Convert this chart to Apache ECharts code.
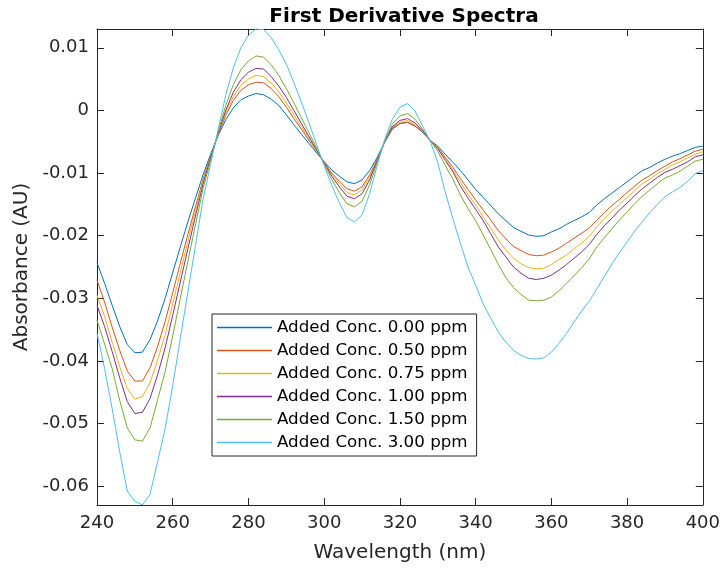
<!DOCTYPE html>
<html>
<head>
<meta charset="utf-8">
<script src="https://cdn.jsdelivr.net/npm/echarts@6/dist/echarts.min.js"></script>
<style>
html, body { margin: 0; padding: 0; background: #fff; }
#chart { width: 723px; height: 568px; }
</style>
</head>
<body>
<div id="chart"></div>
<script>
// wavelength grid (nm)
const wavelength = [
    240, 242, 244, 246, 248, 250, 252, 254, 256, 258,
    260, 262, 264, 266, 268, 270, 272, 274, 276, 278,
    280, 282, 284, 286, 288, 290, 292, 294, 296, 298,
    300, 302, 304, 306, 308, 310, 312, 314, 316, 318,
    320, 322, 324, 326, 328, 330, 332, 334, 336, 338,
    340, 342, 344, 346, 348, 350, 352, 354, 356, 358,
    360, 362, 364, 366, 368, 370, 372, 374, 376, 378,
    380, 382, 384, 386, 388, 390, 392, 394, 396, 398,
    400
];

// first derivative values, one array per added concentration
const conc000 = [
    -0.0243, -0.0276, -0.0311, -0.0345, -0.0374, -0.0387, -0.0386, -0.0366, -0.0336, -0.0300,
    -0.0259, -0.0218, -0.0178, -0.0140, -0.0103, -0.0070, -0.0040, -0.0015, 0.0004, 0.0017,
    0.0023, 0.0027, 0.0025, 0.0018, 0.0008, -0.0007, -0.0023, -0.0038, -0.0053, -0.0068,
    -0.0082, -0.0095, -0.0105, -0.0114, -0.0117, -0.0111, -0.0096, -0.0075, -0.0051, -0.0030,
    -0.0021, -0.0019, -0.0025, -0.0035, -0.0048, -0.0057, -0.0070, -0.0083, -0.0096, -0.0111,
    -0.0126, -0.0139, -0.0152, -0.0165, -0.0176, -0.0187, -0.0193, -0.0199, -0.0201, -0.0200,
    -0.0194, -0.0189, -0.0182, -0.0176, -0.0170, -0.0163, -0.0151, -0.0141, -0.0132, -0.0123,
    -0.0114, -0.0105, -0.0096, -0.0091, -0.0084, -0.0078, -0.0073, -0.0069, -0.0064, -0.0059,
    -0.0057
];
const conc050 = [
    -0.0271, -0.0306, -0.0346, -0.0383, -0.0416, -0.0432, -0.0432, -0.0411, -0.0377, -0.0337,
    -0.0291, -0.0244, -0.0198, -0.0154, -0.0110, -0.0073, -0.0038, -0.0008, 0.0016, 0.0032,
    0.0041, 0.0045, 0.0044, 0.0035, 0.0022, 0.0005, -0.0013, -0.0030, -0.0048, -0.0065,
    -0.0083, -0.0100, -0.0113, -0.0125, -0.0129, -0.0122, -0.0103, -0.0078, -0.0050, -0.0028,
    -0.0021, -0.0019, -0.0025, -0.0034, -0.0048, -0.0059, -0.0075, -0.0091, -0.0109, -0.0126,
    -0.0143, -0.0159, -0.0175, -0.0192, -0.0205, -0.0217, -0.0224, -0.0230, -0.0232, -0.0231,
    -0.0226, -0.0220, -0.0212, -0.0204, -0.0196, -0.0188, -0.0175, -0.0163, -0.0152, -0.0142,
    -0.0131, -0.0121, -0.0111, -0.0104, -0.0096, -0.0089, -0.0082, -0.0077, -0.0071, -0.0065,
    -0.0062
];
const conc075 = [
    -0.0295, -0.0329, -0.0370, -0.0409, -0.0444, -0.0461, -0.0457, -0.0435, -0.0399, -0.0358,
    -0.0309, -0.0259, -0.0209, -0.0161, -0.0114, -0.0075, -0.0037, -0.0004, 0.0022, 0.0040,
    0.0050, 0.0056, 0.0054, 0.0044, 0.0030, 0.0012, -0.0007, -0.0026, -0.0045, -0.0064,
    -0.0084, -0.0102, -0.0117, -0.0131, -0.0135, -0.0127, -0.0107, -0.0079, -0.0050, -0.0027,
    -0.0019, -0.0016, -0.0023, -0.0033, -0.0048, -0.0060, -0.0078, -0.0095, -0.0115, -0.0134,
    -0.0151, -0.0170, -0.0188, -0.0207, -0.0223, -0.0236, -0.0245, -0.0251, -0.0253, -0.0252,
    -0.0246, -0.0238, -0.0231, -0.0221, -0.0212, -0.0201, -0.0186, -0.0173, -0.0161, -0.0150,
    -0.0139, -0.0128, -0.0117, -0.0110, -0.0101, -0.0094, -0.0087, -0.0082, -0.0076, -0.0070,
    -0.0066
];
const conc100 = [
    -0.0311, -0.0345, -0.0385, -0.0427, -0.0465, -0.0484, -0.0482, -0.0460, -0.0422, -0.0379,
    -0.0327, -0.0274, -0.0221, -0.0169, -0.0118, -0.0076, -0.0036, 0.0000, 0.0029, 0.0049,
    0.0061, 0.0067, 0.0066, 0.0054, 0.0039, 0.0021, 0.0000, -0.0021, -0.0042, -0.0063,
    -0.0084, -0.0105, -0.0122, -0.0137, -0.0141, -0.0133, -0.0111, -0.0080, -0.0049, -0.0026,
    -0.0016, -0.0013, -0.0020, -0.0032, -0.0048, -0.0061, -0.0080, -0.0098, -0.0121, -0.0140,
    -0.0158, -0.0176, -0.0197, -0.0218, -0.0234, -0.0250, -0.0260, -0.0268, -0.0270, -0.0268,
    -0.0263, -0.0255, -0.0246, -0.0236, -0.0226, -0.0214, -0.0198, -0.0184, -0.0172, -0.0159,
    -0.0148, -0.0136, -0.0125, -0.0116, -0.0107, -0.0099, -0.0094, -0.0088, -0.0082, -0.0074,
    -0.0071
];
const conc150 = [
    -0.0335, -0.0373, -0.0412, -0.0463, -0.0507, -0.0526, -0.0528, -0.0507, -0.0462, -0.0417,
    -0.0360, -0.0300, -0.0241, -0.0183, -0.0125, -0.0080, -0.0034, 0.0008, 0.0041, 0.0065,
    0.0079, 0.0087, 0.0085, 0.0073, 0.0056, 0.0035, 0.0012, -0.0012, -0.0036, -0.0060,
    -0.0086, -0.0110, -0.0131, -0.0149, -0.0154, -0.0145, -0.0119, -0.0083, -0.0048, -0.0022,
    -0.0009, -0.0005, -0.0014, -0.0030, -0.0048, -0.0065, -0.0088, -0.0110, -0.0135, -0.0157,
    -0.0176, -0.0199, -0.0222, -0.0246, -0.0267, -0.0283, -0.0294, -0.0303, -0.0304, -0.0303,
    -0.0298, -0.0288, -0.0276, -0.0264, -0.0251, -0.0237, -0.0218, -0.0203, -0.0189, -0.0175,
    -0.0162, -0.0149, -0.0137, -0.0127, -0.0117, -0.0108, -0.0103, -0.0097, -0.0089, -0.0081,
    -0.0078
];
const conc300 = [
    -0.0356, -0.0412, -0.0476, -0.0545, -0.0608, -0.0624, -0.0630, -0.0613, -0.0561, -0.0508,
    -0.0439, -0.0364, -0.0290, -0.0216, -0.0142, -0.0086, -0.0030, 0.0024, 0.0068, 0.0100,
    0.0120, 0.0130, 0.0129, 0.0116, 0.0097, 0.0074, 0.0044, 0.0013, -0.0020, -0.0055,
    -0.0088, -0.0120, -0.0147, -0.0171, -0.0178, -0.0167, -0.0133, -0.0088, -0.0046, -0.0014,
    0.0005, 0.0011, -0.0001, -0.0025, -0.0049, -0.0083, -0.0131, -0.0173, -0.0213, -0.0250,
    -0.0279, -0.0309, -0.0332, -0.0354, -0.0370, -0.0383, -0.0391, -0.0396, -0.0397, -0.0395,
    -0.0386, -0.0372, -0.0356, -0.0338, -0.0320, -0.0305, -0.0285, -0.0265, -0.0245, -0.0227,
    -0.0210, -0.0193, -0.0178, -0.0163, -0.0150, -0.0138, -0.0130, -0.0123, -0.0113, -0.0101,
    -0.0096
];

const seriesNames = [
    'Added Conc. 0.00 ppm', 'Added Conc. 0.50 ppm', 'Added Conc. 0.75 ppm',
    'Added Conc. 1.00 ppm', 'Added Conc. 1.50 ppm', 'Added Conc. 3.00 ppm'
];
const seriesValues = [conc000, conc050, conc075, conc100, conc150, conc300];
const lineColors = ['#0072BD', '#D95319', '#EDB120', '#7E2F8E', '#77AC30', '#4DBEEE'];

const xTicks = [240, 260, 280, 300, 320, 340, 360, 380, 400];
const yTicks = [0.01, 0, -0.01, -0.02, -0.03, -0.04, -0.05, -0.06];

// axis limits tight to the data, like matlab "axis tight"
const allVals = [].concat(...seriesValues);
const yMin = Math.min(...allVals);
const yMax = Math.max(...allVals);

const axisColor = '#262626';
const font = 'DejaVu Sans';

let myChart = echarts.init(document.getElementById('chart'), null, { renderer: 'canvas' });

const boxLine = { show: true, onZero: false, lineStyle: { color: axisColor, width: 1 } };
const inTick = { show: true, inside: true, length: 7, lineStyle: { color: axisColor, width: 1 } };

myChart.setOption({
    animation: false,
    backgroundColor: '#fff',
    title: {
        text: 'First Derivative Spectra',
        left: 399,
        textAlign: 'center',
        top: 2,
        textStyle: { fontFamily: font, fontSize: 20, fontWeight: 'bold', color: '#000' }
    },
    legend: {
        orient: 'vertical',
        left: 212,
        top: 314,
        icon: 'rect',
        itemWidth: 55,
        itemHeight: 1.5,
        itemGap: 6,
        padding: [5, 9, 5, 5],
        backgroundColor: '#fff',
        borderColor: axisColor,
        borderWidth: 1,
        borderRadius: 0,
        data: seriesNames,
        textStyle: { fontFamily: font, fontSize: 16.7, color: '#000', lineHeight: 16 }
    },
    grid: { left: 97, right: 17, top: 29, bottom: 60, containLabel: false },
    xAxis: [
        {
            type: 'value',
            min: 240,
            max: 400,
            interval: 20,
            name: 'Wavelength (nm)',
            nameLocation: 'middle',
            nameGap: 38,
            nameTextStyle: { fontFamily: font, fontSize: 20, color: axisColor },
            axisLine: boxLine,
            axisTick: inTick,
            splitLine: { show: false },
            axisLabel: {
                margin: 9, fontFamily: font, fontSize: 18, color: axisColor,
                showMinLabel: true, showMaxLabel: true
            }
        },
        {
            type: 'value',
            position: 'top',
            min: 240,
            max: 400,
            interval: 20,
            axisLine: boxLine,
            axisTick: inTick,
            splitLine: { show: false },
            axisLabel: { show: false }
        }
    ],
    yAxis: [
        {
            type: 'value',
            min: yMin,
            max: yMax,
            name: 'Absorbance (AU)',
            nameLocation: 'middle',
            nameGap: 63,
            nameTextStyle: { fontFamily: font, fontSize: 20, color: axisColor },
            axisLine: boxLine,
            axisTick: Object.assign({ customValues: yTicks }, inTick),
            splitLine: { show: false },
            axisLabel: {
                customValues: yTicks,
                margin: 8, fontFamily: font, fontSize: 18, color: axisColor,
                formatter: v => String(+v.toFixed(2))
            }
        },
        {
            type: 'value',
            position: 'right',
            min: yMin,
            max: yMax,
            axisLine: boxLine,
            axisTick: Object.assign({ customValues: yTicks }, inTick),
            splitLine: { show: false },
            axisLabel: { show: false }
        }
    ],
    series: seriesNames.map((name, i) => ({
        name: name,
        type: 'line',
        xAxisIndex: 0,
        yAxisIndex: 0,
        symbol: 'none',
        smooth: false,
        color: lineColors[i],
        lineStyle: { color: lineColors[i], width: 1 },
        data: wavelength.map((w, j) => [w, seriesValues[i][j]])
    }))
});
</script>
</body>
</html>
